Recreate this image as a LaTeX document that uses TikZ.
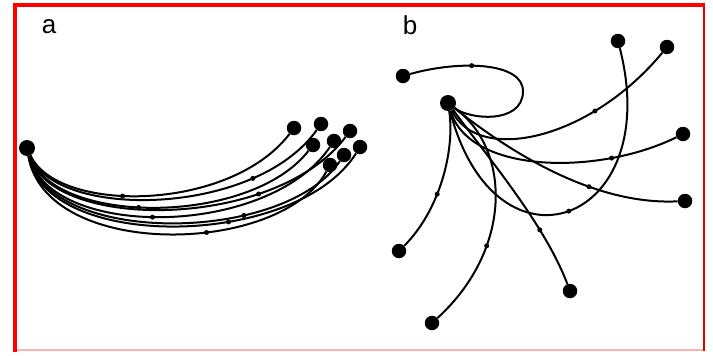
\documentclass[tikz,border=0pt]{standalone}
\usepackage{fontspec}
\setmainfont{Liberation Sans}
\begin{document}
\begin{tikzpicture}[x=1pt,y=-1pt,
  hubdot/.style={circle,fill=black,inner sep=0pt,minimum size=16pt},
  enddot/.style={circle,fill=black,inner sep=0pt,minimum size=14.5pt},
  tick/.style={circle,fill=black,inner sep=0pt,minimum size=5pt},
  fibre/.style={line width=2pt,black},
  panel/.style={font=\fontsize{26}{26}\selectfont}]
\useasboundingbox (0,0) rectangle (713,356);
\fill[white] (0,0) rectangle (713,356);
% frame
\draw[red!30,line width=2.5pt] (15,350) -- (704,350);
\draw[red!85!black,line width=2pt] (704,5) -- (704,351);
\draw[red,line width=4pt] (15,352) -- (15,5) -- (705,5);

% panel labels
\node[panel] (la) at (49,27) {a};
\node[panel] (lb) at (410,25) {b};

% ---------- panel a ----------
\node[hubdot] (ha) at (27,148) {};
\node[enddot] (a1) at (294,128) {};
\node[enddot] (a2) at (321,124) {};
\node[enddot] (a3) at (350,131) {};
\node[enddot] (a4) at (313,145) {};
\node[enddot] (a5) at (334,141) {};
\node[enddot] (a6) at (360,147) {};
\node[enddot] (a7) at (344,155) {};
\node[enddot] (a8) at (330,165) {};

\draw[fibre] (ha) .. controls (58,214) and (230,212) .. (a1) node[tick,pos=0.42] {};
\draw[fibre] (ha) .. controls (56,220) and (255,217) .. (a2) node[tick,pos=0.76] {};
\draw[fibre] (ha) .. controls (54,226) and (250,226) .. (a4) node[tick,pos=0.45] {};
\draw[fibre] (ha) .. controls (52,232) and (276,230) .. (a3) node[tick,pos=0.72] {};
\draw[fibre] (ha) .. controls (50,240) and (268,238) .. (a5) node[tick,pos=0.47] {};
\draw[fibre] (ha) .. controls (48,246) and (284,244) .. (a7) node[tick,pos=0.68] {};
\draw[fibre] (ha) .. controls (46,252) and (296,249) .. (a6) node[tick,pos=0.62] {};
\draw[fibre] (ha) .. controls (46,260) and (280,256) .. (a8) node[tick,pos=0.6] {};

% ---------- panel b ----------
\node[hubdot] (hb) at (448,103) {};
\node[enddot] (b1) at (403,76) {};
\node[enddot] (b2) at (618,41) {};
\node[enddot] (b3) at (667,47) {};
\node[enddot] (b4) at (683,134) {};
\node[enddot] (b5) at (685,201) {};
\node[enddot] (b6) at (399,251) {};
\node[enddot] (b7) at (432,323) {};
\node[enddot] (b8) at (570,291) {};

% looping fibre
\draw[fibre] (hb) .. controls (470,120) and (522,124) .. (523,92)
  .. controls (524,62) and (460,60) .. (b1) node[tick,pos=0.6] {};
\draw[fibre] (hb) .. controls (495,285) and (665,225) .. (b2) node[tick,pos=0.5] {};
\draw[fibre] (hb) .. controls (478,165) and (590,140) .. (b3) node[tick,pos=0.72] {};
\draw[fibre] (hb) .. controls (470,175) and (600,175) .. (b4) node[tick,pos=0.75] {};
\draw[fibre] (hb) .. controls (520,160) and (600,205) .. (b5) node[tick,pos=0.62] {};
\draw[fibre] (hb) .. controls (455,150) and (440,210) .. (b6) node[tick,pos=0.6] {};
\draw[fibre] (hb) .. controls (512,150) and (512,250) .. (b7) node[tick,pos=0.68] {};
\draw[fibre] (hb) .. controls (490,160) and (545,225) .. (b8) node[tick,pos=0.7] {};
\end{tikzpicture}
\end{document}
